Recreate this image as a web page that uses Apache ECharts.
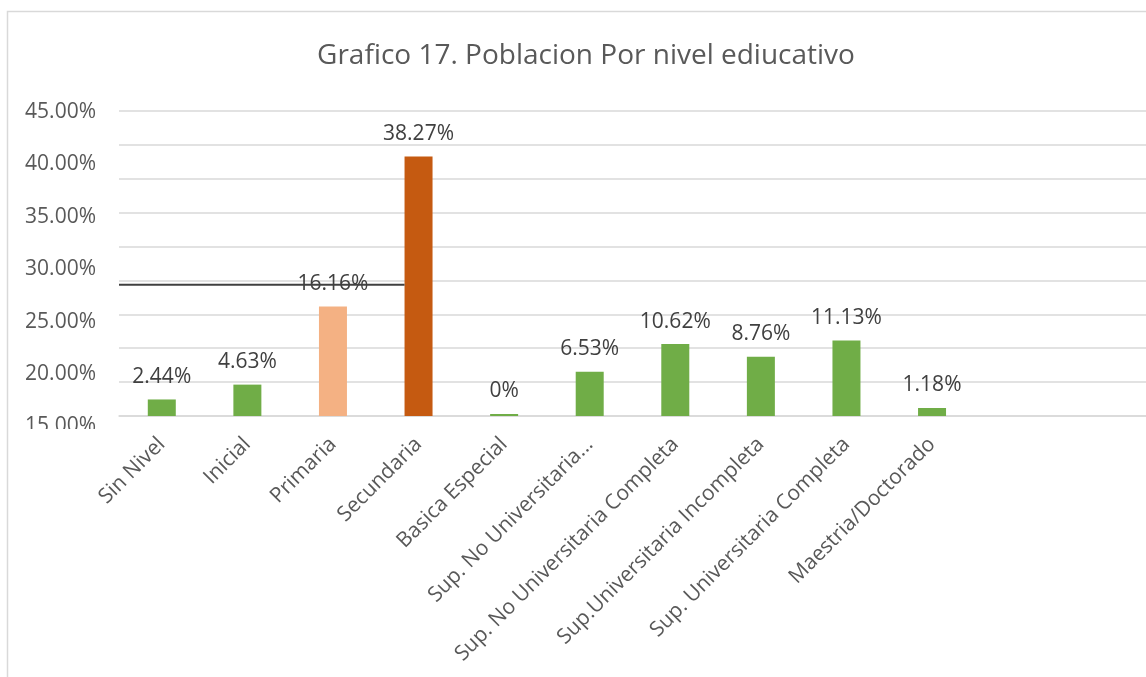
<!DOCTYPE html>
<html>
<head>
<meta charset="utf-8">
<title>Grafico 17</title>
<script src="https://cdn.jsdelivr.net/npm/echarts@6/dist/echarts.min.js"></script>
<style>
  html, body { margin: 0; padding: 0; background: #ffffff; }
  #chart { width: 1146px; height: 677px; }
</style>
</head>
<body>
<div id="chart"></div>
<script>
// Education levels and their share of the population (%)
const categories = [
  'Sin Nivel',
  'Inicial',
  'Primaria',
  'Secundaria',
  'Basica Especial',
  'Sup. No Universitaria...',
  'Sup. No Universitaria Completa',
  'Sup.Universitaria Incompleta',
  'Sup. Universitaria Completa',
  'Maestria/Doctorado'
];
const shares = [2.44, 4.63, 16.16, 38.27, 0, 6.53, 10.62, 8.76, 11.13, 1.18];
const barColors = [
  '#70AD47', '#70AD47', '#F4B183', '#C55A11', '#70AD47',
  '#70AD47', '#70AD47', '#70AD47', '#70AD47', '#70AD47'
];
// two unused slots keep the plot running on to the right
const emptySlots = 2;

// bar scale (gridlines) and the printed percentage scale on the left
const barScale = { min: 0, max: 45, step: 5 };
const tickScale = { min: 15, max: 45, step: 5 };

// horizontal rule drawn across the first columns, on the bar scale
const ruleLevel = 19.37;
const ruleEndCategory = 3;

const FONT = '"Open Sans"';
const BAR_WIDTH = 28;

const slotNames = categories.concat(new Array(emptySlots).fill(''));
const barData = shares.map((v, i) => ({ value: v, itemStyle: { color: barColors[i] } }))
  .concat(new Array(emptySlots).fill(null));

const chart = echarts.init(document.getElementById('chart'), null, { renderer: 'canvas' });

chart.setOption({
  animation: false,
  backgroundColor: '#ffffff',
  title: {
    text: 'Grafico 17. Poblacion Por nivel ediucativo',
    left: 581,
    top: 37,
    textAlign: 'center',
    textStyle: { fontFamily: FONT, fontSize: 28, fontWeight: 'normal', color: '#595959' }
  },
  grid: [
    { left: 119, top: 111, width: 1040, height: 305 },
    { left: 119, top: 112, width: 1040, height: 314.5 }
  ],
  xAxis: [
    {
      gridIndex: 0,
      type: 'category',
      data: slotNames,
      axisTick: { show: false },
      axisLine: { lineStyle: { color: '#D9D9D9', width: 1.5 } },
      axisLabel: {
        interval: 0,
        rotate: 45,
        margin: 25,
        color: '#595959',
        fontFamily: FONT,
        fontSize: 21
      }
    },
    { gridIndex: 1, type: 'value', show: false }
  ],
  yAxis: [
    {
      gridIndex: 0,
      type: 'value',
      min: barScale.min,
      max: barScale.max,
      interval: barScale.step,
      axisLabel: { show: false },
      axisLine: { show: false },
      axisTick: { show: false },
      splitLine: { lineStyle: { color: '#D9D9D9', width: 1.5 } }
    },
    {
      gridIndex: 1,
      type: 'value',
      min: tickScale.min,
      max: tickScale.max,
      interval: tickScale.step,
      axisLine: { show: false },
      axisTick: { show: false },
      splitLine: { show: false },
      axisLabel: {
        margin: 23,
        color: '#595959',
        fontFamily: FONT,
        fontSize: 21,
        formatter: v => v.toFixed(2) + '%'
      }
    }
  ],
  series: [
    {
      type: 'bar',
      xAxisIndex: 0,
      yAxisIndex: 0,
      data: barData,
      barWidth: BAR_WIDTH,
      barMinHeight: 2,
      label: {
        show: true,
        position: 'top',
        distance: 12,
        color: '#404040',
        fontFamily: FONT,
        fontSize: 21,
        formatter: p => p.value + '%'
      }
    }
  ]
});

// frame, horizontal rule and the edge that trims the lowest tick label
const p0 = chart.convertToPixel({ xAxisIndex: 0, yAxisIndex: 0 }, [0, ruleLevel]);
const p1 = chart.convertToPixel({ xAxisIndex: 0, yAxisIndex: 0 }, [1, ruleLevel]);
const pe = chart.convertToPixel({ xAxisIndex: 0, yAxisIndex: 0 }, [ruleEndCategory, ruleLevel]);
const band = p1[0] - p0[0];

chart.setOption({
  graphic: [
    {
      type: 'rect',
      z: 0,
      silent: true,
      shape: { x: 7.5, y: 11.5, width: 1160, height: 700 },
      style: { fill: 'none', stroke: '#D9D9D9', lineWidth: 1.5 }
    },
    {
      type: 'line',
      z: 100,
      silent: true,
      shape: { x1: p0[0] - band / 2, y1: p0[1], x2: pe[0] - BAR_WIDTH / 2, y2: pe[1] },
      style: { stroke: '#404040', lineWidth: 2 }
    },
    {
      type: 'rect',
      z: 100,
      silent: true,
      shape: { x: 20, y: 429, width: 95, height: 14 },
      style: { fill: '#ffffff' }
    }
  ]
});
</script>
</body>
</html>
